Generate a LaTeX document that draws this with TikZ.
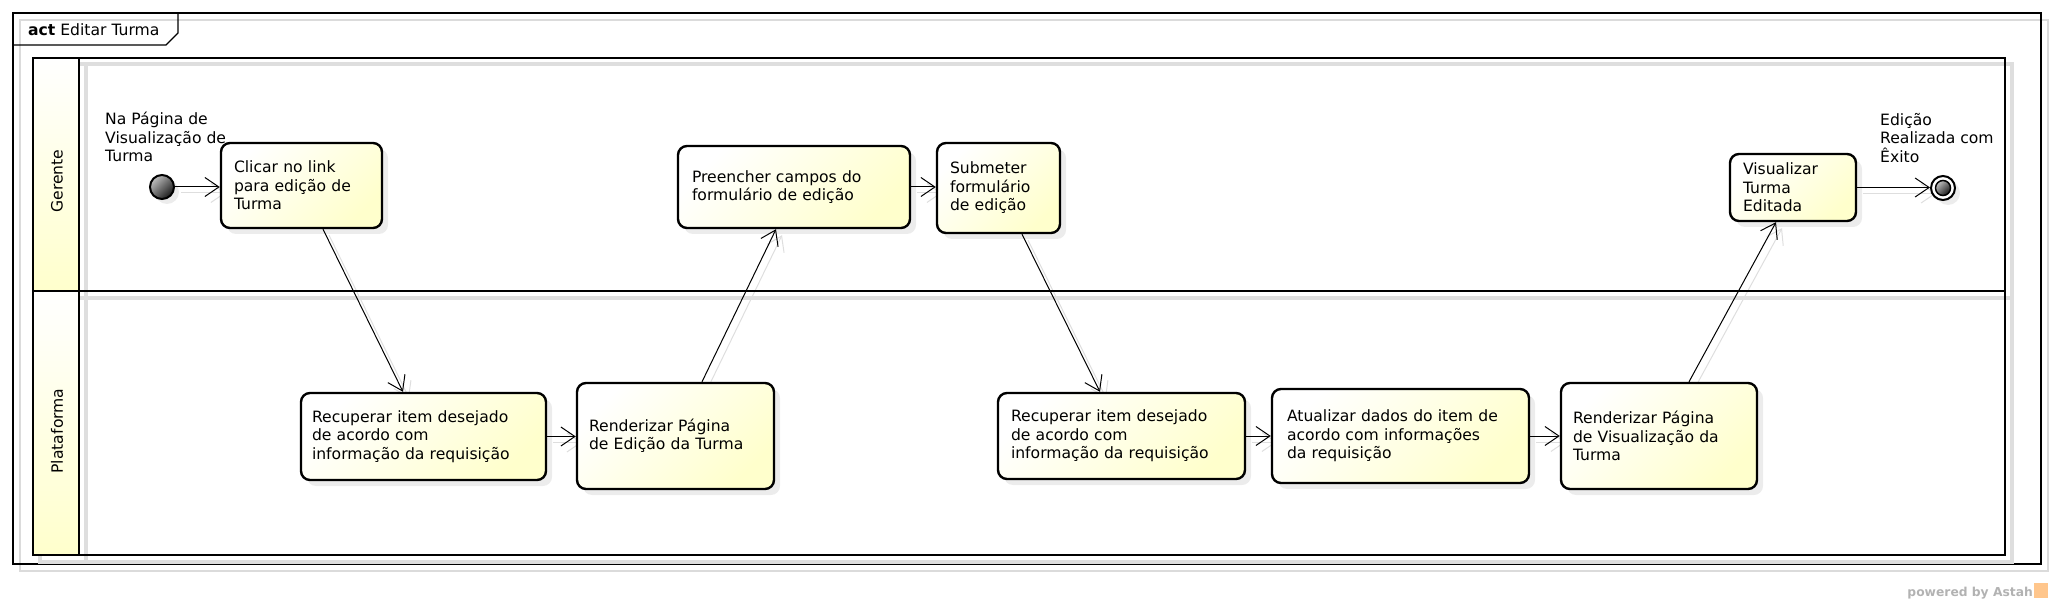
\documentclass[tikz,border=0pt]{standalone}
\usepackage{fontspec}
\setmainfont{DejaVu Sans}
\usetikzlibrary{arrows.meta,calc,shadows}
\definecolor{ylw}{RGB}{255,255,204}
\definecolor{shd}{RGB}{222,222,222}
\pgfdeclarelayer{bg}
\pgfsetlayers{bg,main}
\tikzset{
  txt/.style={font=\fontsize{15.6pt}{18.5pt}\selectfont},
  actbox/.style={rectangle, rounded corners=9pt, draw=black, line width=2.4pt,
    top color=white, bottom color=ylw, shading angle=45,
    drop shadow={shadow xshift=6pt, shadow yshift=-6pt, fill=black!15},
    inner xsep=13pt, inner ysep=0pt, align=left, txt},
  lane/.style={draw=black, line width=2.6pt},
  laneshd/.style={draw=shd, line width=4pt},
  flow/.style={draw=black, line width=1pt, -{Straight Barb[length=14pt,width=19pt,line width=1pt]}},
  flowshd/.style={draw=black!13, line width=1pt, -{Straight Barb[length=14pt,width=19pt,line width=1pt]}},
  lbl/.style={inner sep=0pt, align=left, anchor=north west, txt},
}
\newcommand\myedge[2]{%
  \begin{pgfonlayer}{bg}\draw[flowshd, transform canvas={xshift=6pt,yshift=-6pt}] #1 -- #2;\end{pgfonlayer}%
  \draw[flow] #1 -- #2;}
\begin{document}
\begin{tikzpicture}[x=1pt,y=-1pt]
\useasboundingbox (0,0) rectangle (2054,604);
% frame
\draw[black!14, line width=1.2pt] (20,20) rectangle (2048,571);
\draw[line width=1.2pt] (13,13) rectangle (2041,564);
\draw[line width=1.2pt] (13,45) -- (166,45) -- (178,33) -- (178,13);
\node[anchor=base west, inner sep=0pt, txt] (title) at (28,36) {\textbf{act} Editar Turma};
% lanes shadow
\draw[laneshd] (39.5,64.5) rectangle (2011.5,561.5);
\draw[laneshd] (39.5,297.5) -- (2011.5,297.5);
\draw[laneshd] (85.5,64.5) -- (85.5,561.5);
% lane headers
\shade[top color=white, bottom color=ylw] (33,58) rectangle (79,291);
\shade[top color=white, bottom color=ylw] (33,291) rectangle (79,555);
\draw[lane] (33,58) rectangle (2005,555);
\draw[lane] (33,291) -- (2005,291);
\draw[lane] (79,58) -- (79,555);
\node[rotate=90, txt] (lgerente) at (57,181) {Gerente};
\node[rotate=90, txt] (lplat) at (57,431) {Plataforma};
% initial and final
\node[circle, draw=black, line width=2pt, minimum size=24pt, inner sep=0pt,
  top color=black!25, bottom color=black!90, shading angle=45,
  drop shadow={shadow xshift=5pt, shadow yshift=-5pt, fill=black!15}] (init) at (162,187) {};
\node[circle, draw=black, line width=2pt, fill=white, minimum size=24pt, inner sep=0pt,
  drop shadow={shadow xshift=5pt, shadow yshift=-5pt, fill=black!15}] (fin) at (1943,188) {};
\node[circle, draw=black, line width=1.5pt, minimum size=15pt, inner sep=0pt,
  top color=black!25, bottom color=black!90, shading angle=45] (finin) at (fin) {};
\node[lbl] (linit) at (105,112) {Na Página de\\Visualização de\\Turma};
\node[lbl] (lfin) at (1880,113) {Edição\\Realizada com\\Êxito};
% activities
\node[actbox, minimum width=161pt, text width=135pt, minimum height=85pt] (clicar) at (301.5,185.5) {Clicar no link\\para edição de\\Turma};
\node[actbox, minimum width=232pt, text width=204pt, minimum height=82pt, inner xsep=14pt] (pre) at (794,187) {Preencher campos do\\formulário de edição};
\node[actbox, minimum width=123pt, text width=97pt, minimum height=90pt] (sub) at (998.5,188) {Submeter\\formulário\\de edição};
\node[actbox, minimum width=126pt, text width=100pt, minimum height=67pt] (vis) at (1793,187.5) {Visualizar\\Turma\\Editada};
\node[actbox, minimum width=245pt, text width=223pt, minimum height=87pt, inner xsep=11pt] (rec1) at (423.5,436.5) {Recuperar item desejado\\de acordo com\\informação da requisição};
\node[actbox, minimum width=197pt, text width=173pt, minimum height=106pt, inner xsep=12pt] (ren1) at (675.5,436) {Renderizar Página\\de Edição da Turma};
\node[actbox, minimum width=247pt, text width=221pt, minimum height=86pt] (rec2) at (1121.5,436) {Recuperar item desejado\\de acordo com\\informação da requisição};
\node[actbox, minimum width=257pt, text width=227pt, minimum height=94pt, inner xsep=15pt] (atu) at (1400.5,436) {Atualizar dados do item de\\acordo com informações\\da requisição};
\node[actbox, minimum width=196pt, text width=172pt, minimum height=106pt, inner xsep=12pt] (ren2) at (1659,436) {Renderizar Página\\de Visualização da\\Turma};
% flows
\myedge{(init)}{(init -| clicar.west)}
\myedge{($(clicar.south)+(21.5,0)$)}{($(rec1.north)+(-20.5,0)$)}
\myedge{(rec1.east)}{(rec1.east -| ren1.west)}
\myedge{($(ren1.north)+(26.5,0)$)}{($(pre.south)+(-18,0)$)}
\myedge{(pre.east)}{(pre.east -| sub.west)}
\myedge{($(sub.south)+(23.5,0)$)}{($(rec2.north)+(-21.5,0)$)}
\myedge{(rec2.east)}{(rec2.east -| atu.west)}
\myedge{(atu.east)}{(atu.east -| ren2.west)}
\myedge{($(ren2.north)+(30,0)$)}{($(vis.south)+(-17,0)$)}
\myedge{(vis.east)}{(vis.east -| fin.west)}
% powered by
\node[anchor=base east, inner sep=0pt, text=black!30, font=\bfseries\fontsize{12.3pt}{14pt}\selectfont] (pw) at (2033,596) {powered by Astah};
\fill[orange!45] (2034,583) rectangle (2048,598);
\end{tikzpicture}
\end{document}
